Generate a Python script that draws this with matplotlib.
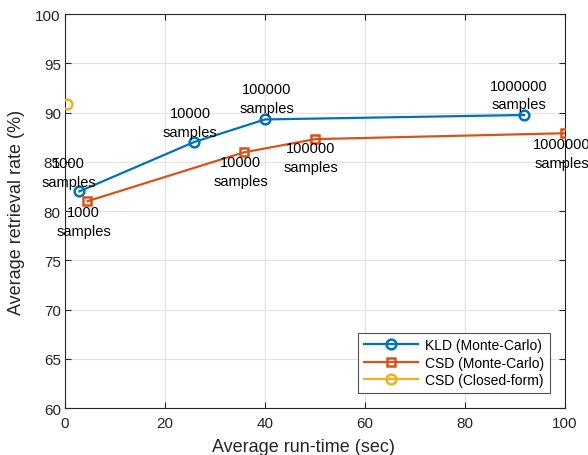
import matplotlib
matplotlib.use("Agg")
import matplotlib.pyplot as plt

# Data
kld_time = [2.9, 25.8, 40.0, 91.8]
kld_rate = [82.0, 87.0, 89.3, 89.75]
csd_time = [4.5, 35.7, 50.0, 100.0]
csd_rate = [81.0, 85.95, 87.3, 87.9]
cf_time = [0.5]
cf_rate = [90.85]
sample_labels = ["1000", "10000", "100000", "1000000"]

kld_offsets = [(-11, 19), (-4, 20), (2, 21), (-5, 20)]   # pixels
csd_offsets = [(-4, -20), (-3, -19), (-4, -18), (-3, -20)]

plt.rcParams['font.family'] = ['Liberation Sans', 'DejaVu Sans']
fig = plt.figure(figsize=(5.88, 4.56), dpi=100)
ax = fig.add_axes([0.1105, 0.103, 0.8505, 0.864])

blue = '#0072BD'
orange = '#D95319'
yellow = '#EDB120'

ax.plot(kld_time, kld_rate, '-o', color=blue, lw=1.6, ms=7, mfc='none', mew=1.8,
        label='KLD (Monte-Carlo)', zorder=3)
ax.plot(csd_time, csd_rate, '-s', color=orange, lw=1.6, ms=6, mfc='none', mew=1.8,
        label='CSD (Monte-Carlo)', zorder=3)
ax.plot(cf_time, cf_rate, '-o', color=yellow, lw=1.6, ms=7, mfc='none', mew=1.8,
        label='CSD (Closed-form)', zorder=3)

pt = 0.72
for x, y, s, (dx, dy) in zip(kld_time, kld_rate, sample_labels, kld_offsets):
    ax.annotate(s + "\nsamples", (x, y), xytext=(dx * pt, dy * pt), textcoords='offset points',
                ha='center', va='center', fontsize=10.5, linespacing=1.45, clip_on=False)
for x, y, s, (dx, dy) in zip(csd_time, csd_rate, sample_labels, csd_offsets):
    ax.annotate(s + "\nsamples", (x, y), xytext=(dx * pt, dy * pt), textcoords='offset points',
                ha='center', va='center', fontsize=10.5, linespacing=1.45, clip_on=False)

ax.set_xlim(0, 100)
ax.set_ylim(60, 100)
ax.set_xticks(range(0, 101, 20))
ax.set_yticks(range(60, 101, 5))
ax.grid(True, color='#e3e3e3', lw=0.8)
ax.set_axisbelow(True)
ax.tick_params(direction='in', top=True, right=True, labelsize=11, colors='#262626', length=4)
ax.tick_params(axis='x', pad=6)
ax.tick_params(axis='y', pad=3)
for sp in ax.spines.values():
    sp.set_color('#262626')
    sp.set_linewidth(0.8)
ax.set_xlabel('Average run-time (sec)', fontsize=13, color='#262626')
ax.set_ylabel('Average retrieval rate (%)', fontsize=13, color='#262626')
ax.xaxis.set_label_coords(0.476, -0.075)
ax.yaxis.set_label_coords(-0.08, 0.5)

leg = ax.legend(loc='lower right', fontsize=10, frameon=True, fancybox=False,
                edgecolor='#262626', borderaxespad=1.1, handlelength=3.9,
                labelspacing=0.25, borderpad=0.4, handletextpad=0.5)
leg.get_frame().set_linewidth(0.8)

fig.savefig('out.png', dpi=100)
